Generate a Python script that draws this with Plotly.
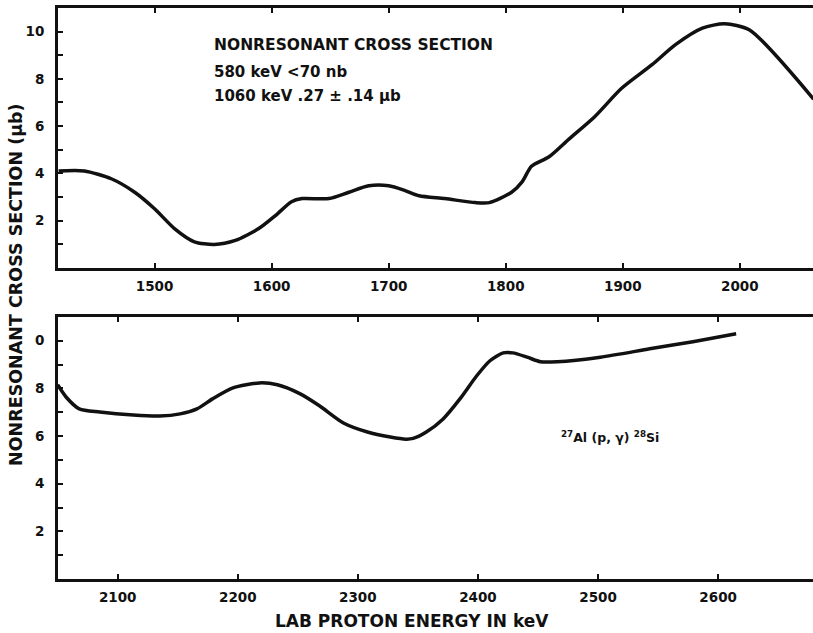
import plotly.graph_objects as go

# ---- data ----
top_energy = [1418, 1440, 1463, 1483, 1500, 1517, 1534, 1551, 1569, 1589, 1603, 1617,
              1626, 1649, 1666, 1683, 1700, 1714, 1726, 1748, 1774, 1786, 1805, 1814,
              1822, 1837, 1854, 1876, 1899, 1925, 1945, 1968, 1987, 2008, 2063]
top_sigma = [4.10, 4.10, 3.77, 3.20, 2.50, 1.66, 1.10, 0.99, 1.16, 1.66, 2.20, 2.80,
             2.93, 2.93, 3.20, 3.47, 3.47, 3.27, 3.05, 2.93, 2.76, 2.76, 3.20, 3.64,
             4.30, 4.70, 5.45, 6.40, 7.60, 8.60, 9.45, 10.15, 10.33, 10.08, 7.14]

bot_energy = [2050, 2057, 2068, 2085, 2113, 2135, 2152, 2166, 2179, 2196, 2218, 2233,
              2252, 2268, 2288, 2308, 2327, 2340, 2346, 2357, 2371, 2385, 2399, 2410,
              2421, 2429, 2441, 2452, 2466, 2502, 2543, 2579, 2615]
bot_sigma = [8.15, 7.64, 7.14, 7.01, 6.88, 6.84, 6.93, 7.14, 7.56, 8.02, 8.23, 8.15,
             7.77, 7.27, 6.55, 6.17, 5.96, 5.87, 5.90, 6.17, 6.72, 7.56, 8.53, 9.16,
             9.49, 9.49, 9.31, 9.12, 9.12, 9.31, 9.66, 9.96, 10.29]

top_xticks = [1500, 1600, 1700, 1800, 1900, 2000]
bot_xticks = [2100, 2200, 2300, 2400, 2500, 2600]
y_major = [2, 4, 6, 8, 10]
y_minor = [1, 3, 5, 7, 9]
top_yticktext = ["2", "4", "6", "8", "10"]
bot_yticktext = ["2", "4", "6", "8", "0"]

title_y = "NONRESONANT CROSS SECTION (\u03bcb)"
title_x = "LAB PROTON ENERGY IN keV"
note_lines = ["NONRESONANT CROSS SECTION",
              "580 keV <70 nb",
              "1060 keV .27 \u00b1 .14 \u03bcb"]
reaction = "<sup>27</sup>Al (p, \u03b3) <sup>28</sup>Si"

FONT = "DejaVu Sans"
INK = "#111111"

fig = go.Figure()
fig.add_trace(go.Scatter(x=top_energy, y=top_sigma, mode="lines",
                         line=dict(color=INK, width=3.5, shape="spline", smoothing=0.7),
                         xaxis="x", yaxis="y", showlegend=False, hoverinfo="skip"))
fig.add_trace(go.Scatter(x=bot_energy, y=bot_sigma, mode="lines",
                         line=dict(color=INK, width=3.5, shape="spline", smoothing=0.7),
                         xaxis="x2", yaxis="y2", showlegend=False, hoverinfo="skip"))

tickfont = dict(family=FONT, size=13.5, color=INK, weight="bold")
xcommon = dict(showline=True, linewidth=3, linecolor=INK, mirror="ticks",
               ticks="inside", ticklen=5, tickwidth=2, tickcolor=INK,
               showgrid=False, zeroline=False, tickfont=tickfont, ticklabelstandoff=4)
ycommon = dict(showline=True, linewidth=3, linecolor=INK,
               ticks="inside", ticklen=5, tickwidth=2, tickcolor=INK,
               showgrid=False, zeroline=False, tickfont=tickfont,
               tickmode="array", tickvals=y_major, range=[0, 11], ticklabelstandoff=8,
               minor=dict(tickmode="array", tickvals=y_minor, ticks="inside",
                          ticklen=5, tickwidth=2, tickcolor=INK, showgrid=False))

fig.update_layout(
    width=813, height=633,
    margin=dict(l=58, r=0, t=8, b=54),
    paper_bgcolor="white", plot_bgcolor="white",
    xaxis=dict(domain=[0, 1], anchor="y", range=[1417.5, 2062.5],
               tickmode="array", tickvals=top_xticks, **xcommon),
    yaxis=dict(domain=[0.545, 1], anchor="x", ticktext=top_yticktext, **ycommon),
    xaxis2=dict(domain=[0, 1], anchor="y2", range=[2050.3, 2679],
                tickmode="array", tickvals=bot_xticks, **xcommon),
    yaxis2=dict(domain=[0, 0.459], anchor="x2", ticktext=bot_yticktext, **ycommon),
    showlegend=False,
)

bold = dict(family=FONT, color=INK, weight="bold")
fig.add_annotation(text=title_y, xref="paper", yref="paper", x=-0.0556, y=0.515,
                   xanchor="center", yanchor="middle", textangle=-90, showarrow=False,
                   font=dict(size=17.5, **bold))
fig.add_annotation(text=title_x, xref="paper", yref="paper", x=0.469, y=-0.0736,
                   xanchor="center", yanchor="middle", showarrow=False,
                   font=dict(size=17, **bold))

note_sizes = [15.5, 15, 15]
for line, yp, sz in zip(note_lines, [0.935, 0.888, 0.846], note_sizes):
    fig.add_annotation(text=line, xref="paper", yref="paper", x=0.204, y=yp,
                       xanchor="left", yanchor="middle", showarrow=False,
                       font=dict(size=sz, **bold))

fig.add_annotation(text=reaction, xref="paper", yref="paper", x=0.731, y=0.249,
                   xanchor="center", yanchor="middle", showarrow=False,
                   font=dict(size=12.5, **bold))

fig.write_html("out.html")
